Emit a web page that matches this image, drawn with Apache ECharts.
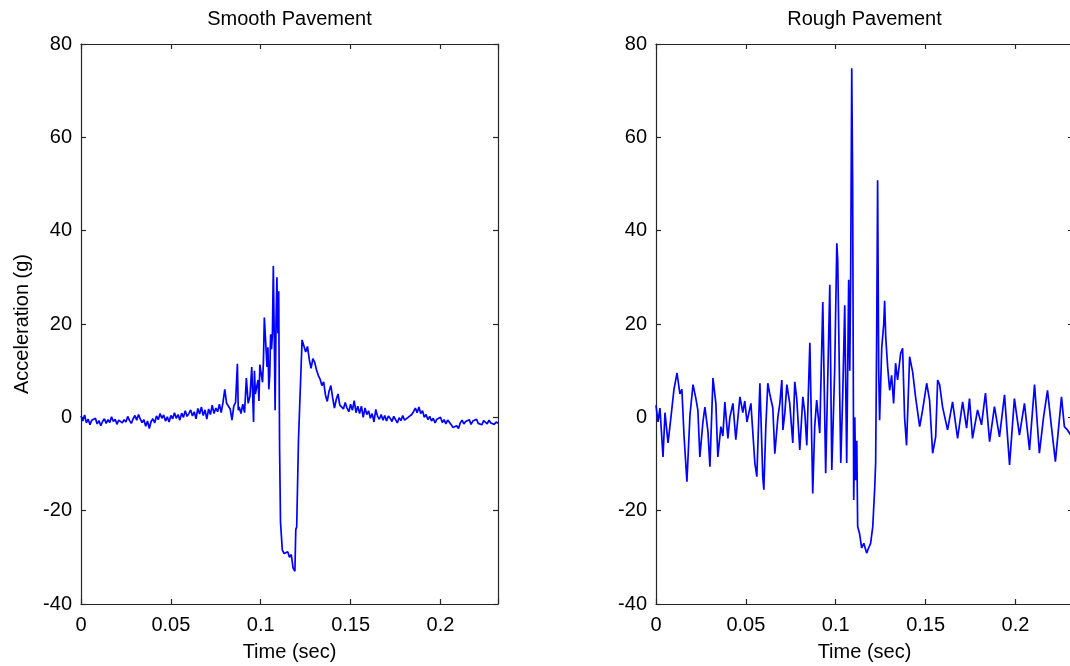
<!DOCTYPE html>
<html>
<head>
<meta charset="utf-8">
<script src="https://cdn.jsdelivr.net/npm/echarts@6/dist/echarts.min.js"></script>
<style>
  html, body { margin: 0; padding: 0; background: #fff; }
  #chart { width: 1070px; height: 666px; }
</style>
</head>
<body>
<div id="chart"></div>
<script>
// Accelerometer traces for a wheel crossing a bump, smooth vs rough pavement.
// Times in milliseconds, acceleration in g.

const panelTitles = ['Smooth Pavement', 'Rough Pavement'];
const timeTicks = [0, 0.05, 0.1, 0.15, 0.2];
const timeTickLabels = ['0', '0.05', '0.1', '0.15', '0.2'];
const accelTicks = [-40, -20, 0, 20, 40, 60, 80];

const smoothTimeMs = [
  0, 1, 2, 3, 4, 5, 6, 7, 8, 9,
  10, 11, 12, 13, 14, 15, 16, 17, 18, 19,
  20, 21, 22, 23, 24, 25, 26, 27, 28, 29,
  30, 31, 32, 33, 34, 35, 36, 37, 38, 39,
  40, 41, 42, 43, 44, 45, 46, 47, 48, 49,
  50, 51, 52, 53, 54, 55, 56, 57, 58, 59,
  60, 61, 62, 63, 64, 65, 66, 67, 68, 69,
  70, 71, 72, 73, 74, 75, 76, 77, 78, 79,
  80, 81, 82, 83, 84, 85, 86,
  87, 87.5, 88, 89, 90, 91, 92, 93, 94, 95, 96, 96.5, 97, 98, 98.5, 99, 99.5,
  100, 101, 101.5, 102, 103, 103.5, 104, 104.5, 105, 105.5, 106, 106.5, 107, 107.5,
  108, 108.5, 109, 109.5, 110, 110.5, 111, 112, 113, 114, 115, 115.5, 116, 117, 118, 119, 119.5,
  120, 121, 122, 123, 124, 125, 126, 127, 128, 129,
  130, 131, 132, 133, 134, 135, 136, 137, 138, 139,
  140, 141, 142, 143, 144, 145, 146, 147, 148, 149,
  150, 151, 152, 153, 154, 155, 156, 157, 158, 159,
  160, 161, 162, 163, 164, 165, 166, 167, 168, 169,
  170, 171, 172, 173, 174, 175, 176, 177, 178, 179,
  180, 181, 182, 183, 184, 185, 186, 187, 188, 189,
  190, 191, 192, 193, 194, 195, 196, 197, 198, 199,
  200, 201, 202, 203, 204, 205, 206, 207, 208, 209,
  210, 211, 212, 213, 214, 215, 216, 217, 218, 219,
  220, 221, 222, 223, 224, 225, 226, 227, 228, 229,
  230, 231, 232
];
const smoothAccel = [
  0.3, -0.8, 0.5, -1.2, -0.4, -1.6, -0.6, -1.0, -0.2, -1.4,
  -0.7, -1.8, -0.9, -0.3, -1.3, -0.5, -1.1, 0.1, -0.9, -0.4,
  -1.5, -0.6, -0.2, -1.2, -0.5, -1.0, 0.2, -0.7, -1.3, -0.3,
  0.4, -0.6, 0.6, -0.4, -1.1, -0.5, -1.9, -0.8, -2.4, -0.9,
  -0.3, -1.2, 0.3, -0.5, 0.8, -0.2, 0.5, -0.8, 0.1, -1.0,
  0.4, -0.3, 1.0, -0.2, 0.6, -0.6, 0.9, 0.0, 1.4, 0.2,
  0.8, 1.6, 0.3, 1.2, -0.3, 1.9, 0.7, 2.2, 0.4, 1.6,
  -0.4, 1.8, 0.6, 2.6, 0.8, 2.0, 1.2, 2.8, 1.0, 3.2,
  6.0, 3.0, 2.6, 1.8, -0.6, 2.4, 3.2,
  11.5, 1.5, 2.2, 0.8, 2.8, 1.0, 8.4, 3.0, 4.5, 10.8, -1.0, 10.0, 5.0, 4.8, 8.0, 3.5, 11.3,
  10.0, 7.5, 12.0, 21.4, 21.0, 10.8, 15.0, 6.0, 9.0, 17.8, 14.6, 18.0, 32.4, 18.0,
  1.5, 20.0, 30.0, 18.0, 27.0, -7.0, -22.5, -28.4, -29.2, -29.5, -28.8, -28.6, -30.0, -29.4, -32.3, -33.0, -24.0,
  -23.5, -4.8, 6.0, 16.6, 17.0, 14.0, 15.2, 12.4, 10.5, 12.6,
  11.8, 10.2, 9.0, 8.2, 6.8, 7.6, 4.8, 3.4, 5.6, 6.8,
  4.2, 2.0, 3.8, 5.0, 2.6, 3.0, 1.8, 3.2, 2.0, 1.2,
  2.8, 1.5, 3.6, 1.0, 2.4, 0.8, 2.4, 0.0, 2.0, 0.6,
  1.4, -0.2, 0.8, -1.0, 1.7, 0.2, -0.4, 0.6, -0.6, 0.4,
  -0.8, 0.3, -0.2, -0.9, 0.2, -0.5, -1.2, -0.1, -0.7, 0.4,
  -0.6, -1.0, 0.0, -0.4, 0.6, 1.2, 2.0, 1.0, 2.2, 0.8,
  1.4, 0.0, 0.6, -0.5, 0.2, -0.8, -0.2, -1.2, -0.4, -0.8,
  0.0, -1.1, -0.5, -1.4, -0.6, -0.9, -1.6, -2.2, -2.6, -1.8,
  -2.4, -1.2, -0.6, -1.4, -0.9, -1.2, -0.5, -1.5, -0.8, -1.1,
  -0.4, -1.3, -0.9, -1.6, -0.7, -1.0, -1.4, -0.6, -1.2, -0.8,
  -1.5, -1.0, -1.3
];

const roughTimeMs = [
  0, 1.1, 2.2, 3.9, 5.0, 6.7, 8.3, 10.0, 11.7, 13.3,
  14.4, 15.6, 17.2, 18.9, 20.6, 22.2, 23.3, 24.4, 26.1, 27.2,
  28.9, 30.0, 31.7, 33.3, 34.4, 36.1, 37.2, 38.3, 40.0, 41.1,
  42.8, 44.4, 46.7, 48.3, 49.4, 50.6, 51.7, 52.8, 55.0, 56.1,
  57.8, 59.4, 60.0, 61.1, 62.2, 63.3, 65.0, 66.1, 67.8, 68.9,
  70.0, 70.6, 71.7, 72.8, 74.4, 76.1, 77.2, 78.3, 80.0, 81.7,
  82.8, 83.9, 85.6, 87.2, 88.3, 89.4, 91.1, 92.8, 94.4, 96.7,
  97.8, 99.4, 100.6, 101.1, 102.2, 102.8, 103.9, 105.0, 106.1, 107.2,
  107.8, 108.3, 108.9, 109.4, 110.0, 110.6, 111.1, 111.7, 112.2, 113.3,
  114.4, 115.6, 117.2, 118.3, 119.4, 120.6, 121.7, 122.2, 122.8, 123.3,
  123.9, 124.4, 125.6, 126.7, 127.2, 127.8, 128.9, 130.0, 131.1, 132.2,
  133.3, 134.4, 136.1, 137.2, 138.3, 139.4, 141.1, 142.8, 144.4, 146.7,
  148.3, 150.6, 152.2, 153.9, 155.6, 156.7, 157.8, 159.4, 162.2, 165.0,
  167.8, 170.6, 172.8, 174.4, 176.1, 178.9, 181.1, 183.3, 185.6, 188.3,
  191.1, 193.9, 196.7, 199.4, 202.2, 205.0, 207.8, 210.6, 213.3, 215.6,
  217.8, 220.0, 222.2, 225.6, 227.2, 228.9, 231.1, 231.7
];
const roughAccel = [
  2.6, -1.0, 2.0, -8.5, 1.0, -5.5, 0.0, 6.0, 9.5, 5.0,
  6.0, -4.0, -13.8, 0.5, 7.0, 4.0, 1.5, -8.5, -1.0, 2.2,
  -3.0, -10.6, 8.4, 3.0, -8.5, -2.0, -4.0, 3.3, -4.5, 0.0,
  3.0, -4.8, 4.4, 1.0, 3.5, -1.0, 1.0, 3.0, -9.8, -12.7,
  7.3, -12.7, -15.5, -2.0, 7.3, 5.0, 2.0, -7.8, 0.0, 3.0,
  8.0, -2.7, 1.0, 7.0, 3.0, -5.5, 7.6, 4.0, -7.0, 4.4,
  1.0, -6.0, 16.0, -16.3, -2.0, 3.7, -3.4, 24.7, -12.0, 28.4,
  -11.3, 10.0, 37.3, 33.7, 5.0, -9.8, 5.0, 24.0, -9.8, 29.5,
  10.0, 30.0, 74.8, 50.4, -17.7, 0.0, -13.5, -5.0, -23.4, -25.0,
  -28.0, -27.0, -29.1, -28.0, -27.0, -23.4, -15.0, -9.8, 18.7, 50.8,
  10.0, -0.6, 15.0, 20.0, 25.0, 17.3, 10.7, 5.8, 9.0, 3.0,
  11.6, 8.0, 13.7, 14.8, 0.0, -6.0, 13.0, 9.7, 4.4, -2.0,
  1.5, 7.3, 3.7, -7.7, -4.2, 8.0, 7.0, 2.3, -2.7, 3.3,
  -4.5, 3.3, -2.3, 4.0, -4.5, 1.6, -1.6, 5.2, -5.2, 2.3,
  -4.2, 4.8, -10.2, 4.0, -3.8, 3.0, -7.0, 7.0, -7.7, 0.0,
  5.8, -2.0, -9.5, 4.4, -2.0, -2.7, -4.0, -3.5
];

const FONT = '"Liberation Sans", Arial, Helvetica, sans-serif';
const AXIS_COLOR = '#262626';
const TRACE_COLOR = '#0000ff';
const TIME_MAX = 0.232;

function pairs(timesMs, values) {
  return timesMs.map((t, i) => [t / 1000, values[i]]);
}

function timeLabel(v) {
  const i = timeTicks.findIndex(t => Math.abs(t - v) < 1e-9);
  return i >= 0 ? timeTickLabels[i] : '';
}
function accelLabel(v) {
  return accelTicks.indexOf(v) >= 0 ? String(v) : '';
}

// The second panel runs slightly past the right edge of the canvas.
const grids = [
  { left: 81, top: 44, width: 417, height: 560, outerBoundsMode: 'none', containLabel: false },
  { left: 656, top: 44, width: 417, height: 560, outerBoundsMode: 'none', containLabel: false }
];

const xAxes = [];
const yAxes = [];
grids.forEach((g, gi) => {
  const line = { show: true, onZero: false, lineStyle: { color: AXIS_COLOR, width: 1.2 } };
  const tick = { show: true, inside: true, length: 5, lineStyle: { color: AXIS_COLOR, width: 1.2 } };
  xAxes.push({
    type: 'value', gridIndex: gi, position: 'bottom',
    min: 0, max: TIME_MAX, interval: 0.05,
    axisLine: line, axisTick: tick, splitLine: { show: false },
    axisLabel: { formatter: timeLabel, color: '#000', fontSize: 20, fontFamily: FONT, margin: 11 },
    name: 'Time (sec)', nameLocation: 'middle', nameGap: 38,
    nameTextStyle: { color: '#000', fontSize: 20, fontFamily: FONT }
  });
  xAxes.push({
    type: 'value', gridIndex: gi, position: 'top',
    min: 0, max: TIME_MAX, interval: 0.05,
    axisLine: line, axisTick: tick, splitLine: { show: false },
    axisLabel: { show: false }
  });
  yAxes.push({
    type: 'value', gridIndex: gi, position: 'left',
    min: -40, max: 80, interval: 20,
    axisLine: line, axisTick: tick, splitLine: { show: false },
    axisLabel: { formatter: accelLabel, color: '#000', fontSize: 20, fontFamily: FONT, margin: 9 },
    name: gi === 0 ? 'Acceleration (g)' : '', nameLocation: 'middle', nameGap: 49,
    nameTextStyle: { color: '#000', fontSize: 20, fontFamily: FONT }
  });
  yAxes.push({
    type: 'value', gridIndex: gi, position: 'right',
    min: -40, max: 80, interval: 20,
    axisLine: line, axisTick: tick, splitLine: { show: false },
    axisLabel: { show: false }
  });
});

const traces = [pairs(smoothTimeMs, smoothAccel), pairs(roughTimeMs, roughAccel)];

const option = {
  backgroundColor: '#fff',
  animation: false,
  title: grids.map((g, gi) => ({
    text: panelTitles[gi],
    left: g.left + g.width / 2,
    top: 9,
    textAlign: 'center',
    padding: 0,
    textStyle: { color: '#000', fontSize: 20, fontWeight: 'normal', fontFamily: FONT }
  })),
  grid: grids,
  xAxis: xAxes,
  yAxis: yAxes,
  series: traces.map((data, gi) => ({
    type: 'line',
    xAxisIndex: gi * 2,
    yAxisIndex: gi * 2,
    data: data,
    showSymbol: false,
    clip: true,
    lineStyle: { color: TRACE_COLOR, width: 1.7 }
  }))
};

const chart = echarts.init(document.getElementById('chart'), null, { renderer: 'canvas' });
chart.setOption(option);
</script>
</body>
</html>
